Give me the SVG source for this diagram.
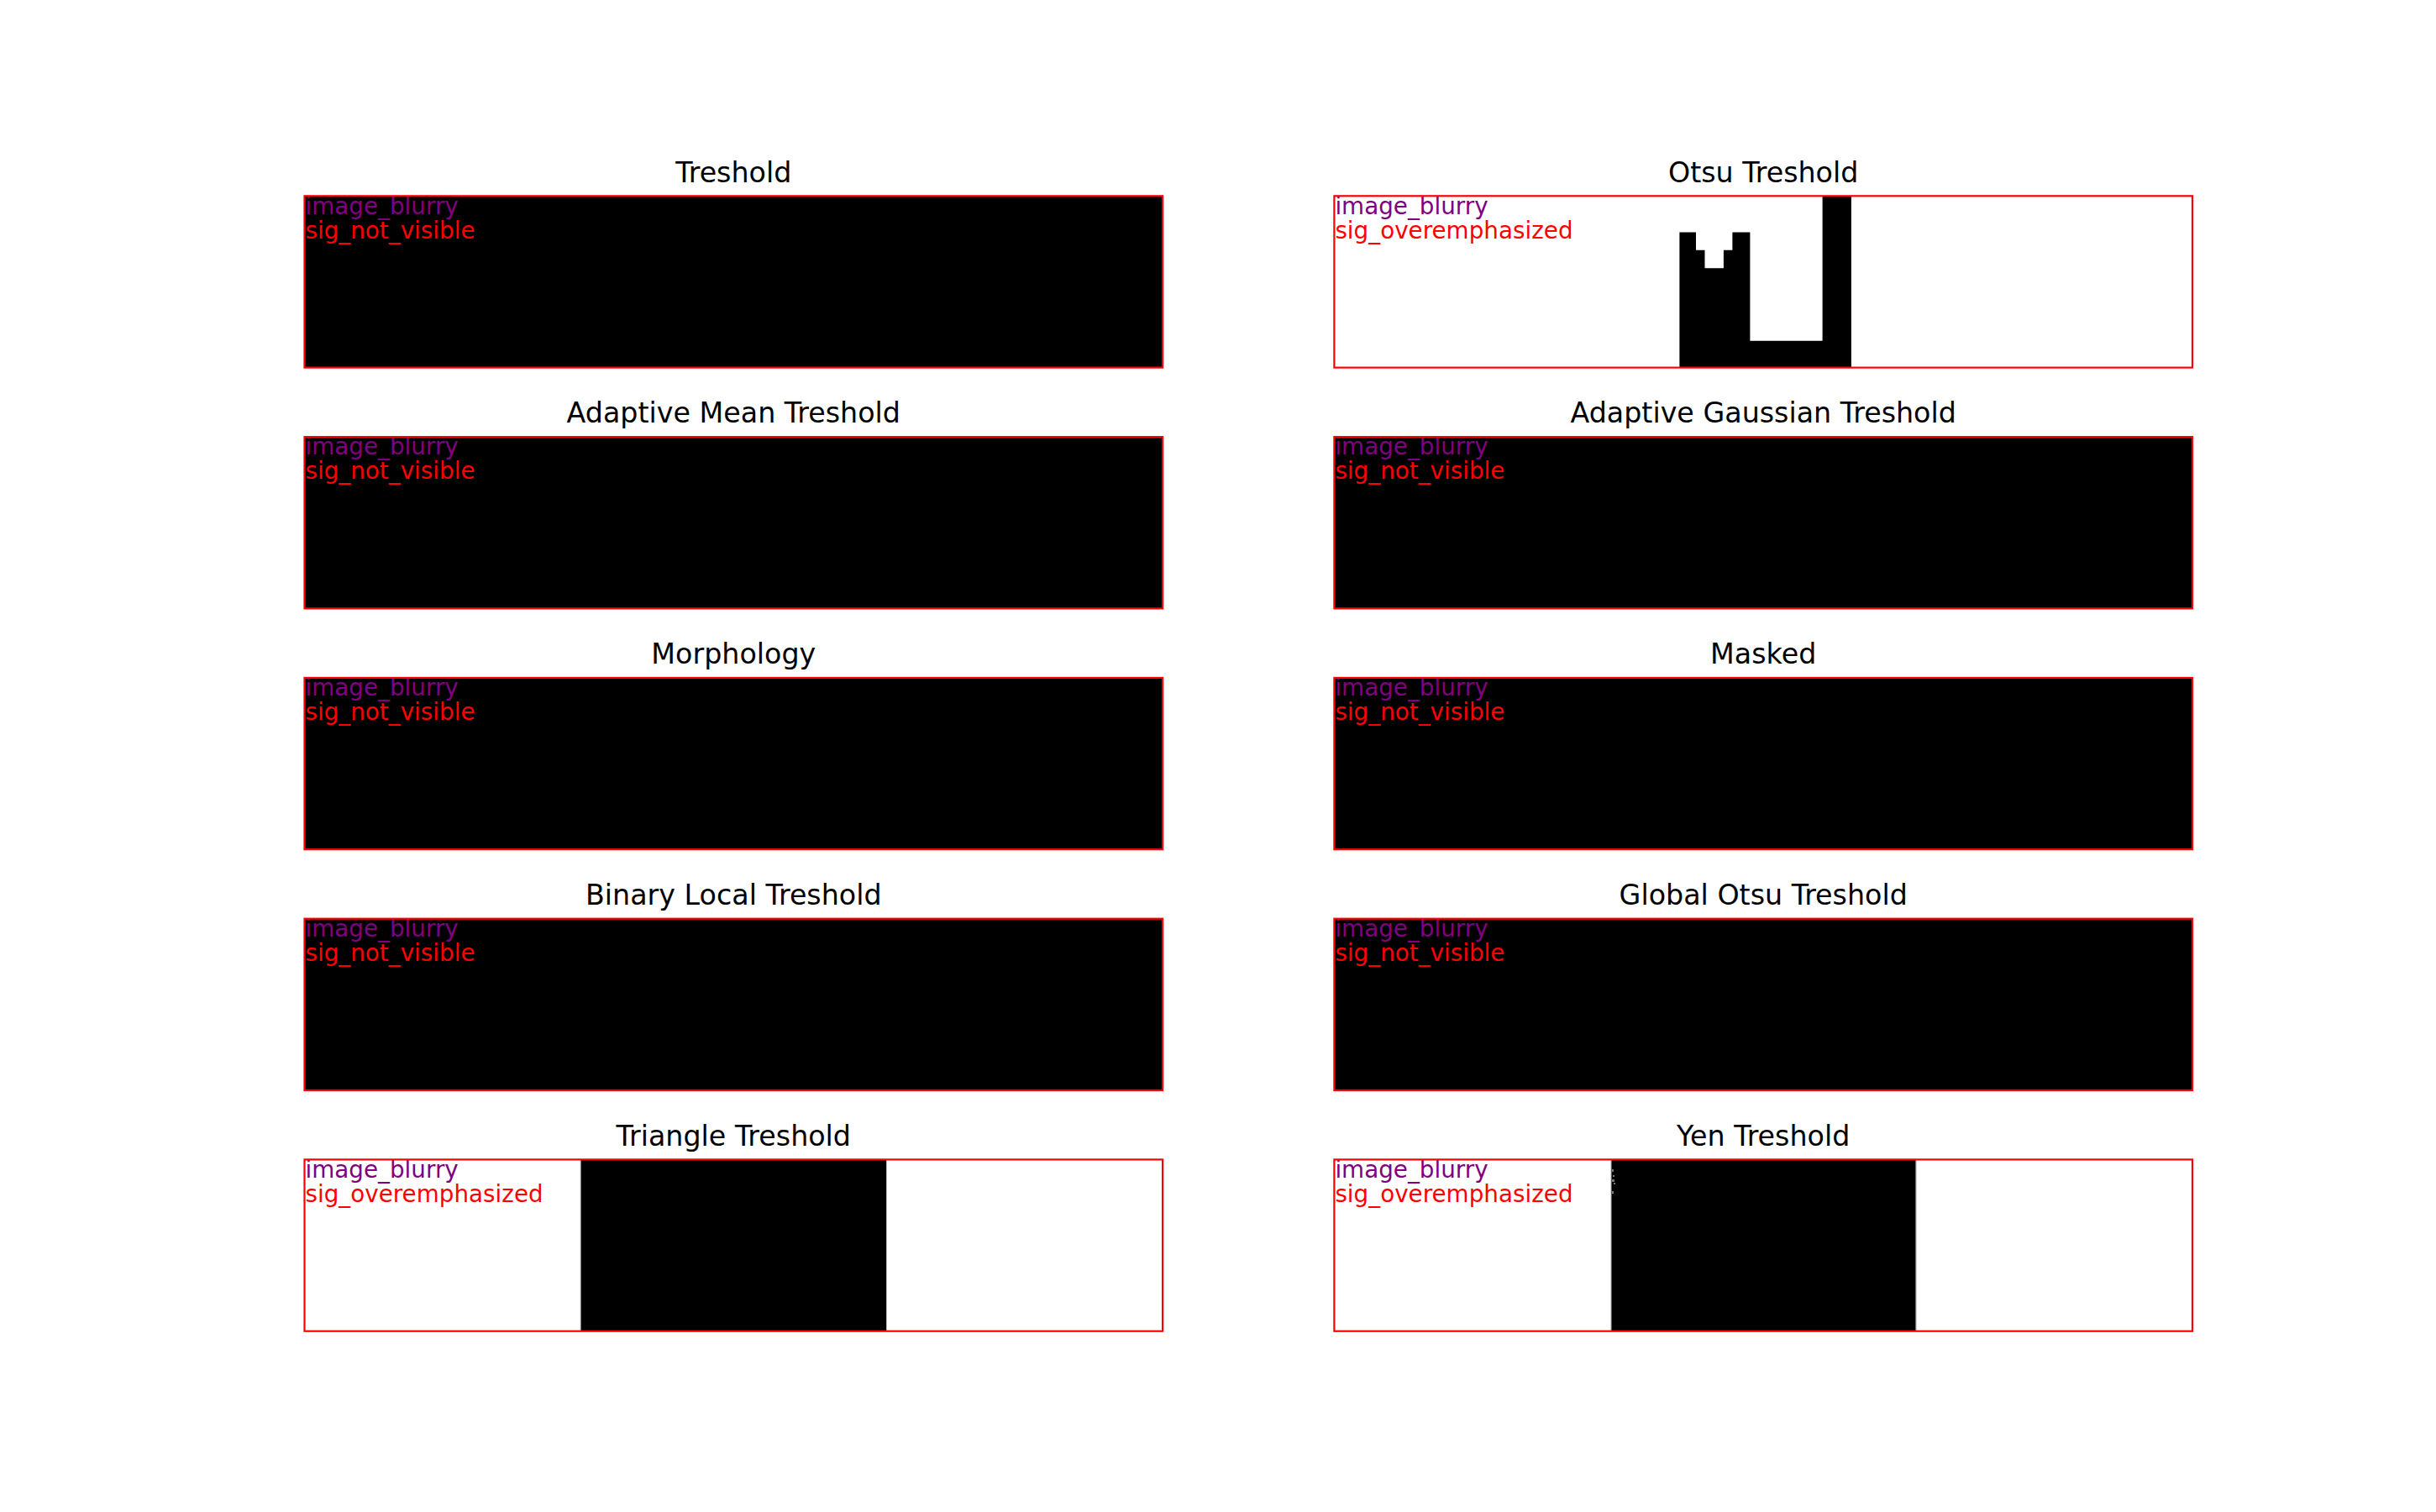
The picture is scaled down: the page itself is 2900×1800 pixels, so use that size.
<svg xmlns="http://www.w3.org/2000/svg" width="2900" height="1800" viewBox="0 0 2900 1800">
<style>
.title{font-family:"DejaVu Sans","Liberation Sans",sans-serif;font-size:33.3px;fill:#000;text-anchor:middle}
.ann{font-family:"DejaVu Sans","Liberation Sans",sans-serif;font-size:27.8px}
.blur{fill:#800080}
.sig{fill:#ff0000}
.frame{fill:none;stroke:#ff0000;stroke-width:2.2}
.img{fill:#000}
.bg{fill:#fff}
.edge{fill:#bdbdbd}
</style>
<rect x="0" y="0" width="2900" height="1800" fill="#fff"/>

<g id="treshold">
<text class="title" x="873.3" y="216.6">Treshold</text>
<rect class="img" x="362.5" y="233.3" width="1021.6" height="204.3"/>
<text class="ann blur" x="363.5" y="254.5">image_blurry</text>
<text class="ann sig" x="363.5" y="283.5">sig_not_visible</text>
<rect class="frame" x="362.5" y="233.3" width="1021.6" height="204.3"/>
</g>

<g id="otsu">
<text class="title" x="2099.2" y="216.6">Otsu Treshold</text>
<rect class="bg" x="1588.4" y="233.3" width="1021.6" height="204.3"/>
<path class="img" d="M1999.4 437.6 V276.5 H2019 V297.7 H2029.5 V319.3 H2051.9 V297.7 H2062.4 V276.5 H2083.4 V405.7 H2169.6 V233.3 H2203.9 V437.6 Z"/>
<text class="ann blur" x="1589.4" y="254.5">image_blurry</text>
<text class="ann sig" x="1589.4" y="283.5">sig_overemphasized</text>
<rect class="frame" x="1588.4" y="233.3" width="1021.6" height="204.3"/>
</g>

<g id="adaptive-mean">
<text class="title" x="873.3" y="503.4">Adaptive Mean Treshold</text>
<rect class="img" x="362.5" y="520.1" width="1021.6" height="204.3"/>
<text class="ann blur" x="363.5" y="541.3">image_blurry</text>
<text class="ann sig" x="363.5" y="570.3">sig_not_visible</text>
<rect class="frame" x="362.5" y="520.1" width="1021.6" height="204.3"/>
</g>

<g id="adaptive-gaussian">
<text class="title" x="2099.2" y="503.4">Adaptive Gaussian Treshold</text>
<rect class="img" x="1588.4" y="520.1" width="1021.6" height="204.3"/>
<text class="ann blur" x="1589.4" y="541.3">image_blurry</text>
<text class="ann sig" x="1589.4" y="570.3">sig_not_visible</text>
<rect class="frame" x="1588.4" y="520.1" width="1021.6" height="204.3"/>
</g>

<g id="morphology">
<text class="title" x="873.3" y="790.2">Morphology</text>
<rect class="img" x="362.5" y="806.9" width="1021.6" height="204.3"/>
<text class="ann blur" x="363.5" y="828.1">image_blurry</text>
<text class="ann sig" x="363.5" y="857.1">sig_not_visible</text>
<rect class="frame" x="362.5" y="806.9" width="1021.6" height="204.3"/>
</g>

<g id="masked">
<text class="title" x="2099.2" y="790.2">Masked</text>
<rect class="img" x="1588.4" y="806.9" width="1021.6" height="204.3"/>
<text class="ann blur" x="1589.4" y="828.1">image_blurry</text>
<text class="ann sig" x="1589.4" y="857.1">sig_not_visible</text>
<rect class="frame" x="1588.4" y="806.9" width="1021.6" height="204.3"/>
</g>

<g id="binary-local">
<text class="title" x="873.3" y="1077">Binary Local Treshold</text>
<rect class="img" x="362.5" y="1093.7" width="1021.6" height="204.3"/>
<text class="ann blur" x="363.5" y="1114.9">image_blurry</text>
<text class="ann sig" x="363.5" y="1143.9">sig_not_visible</text>
<rect class="frame" x="362.5" y="1093.7" width="1021.6" height="204.3"/>
</g>

<g id="global-otsu">
<text class="title" x="2099.2" y="1077">Global Otsu Treshold</text>
<rect class="img" x="1588.4" y="1093.7" width="1021.6" height="204.3"/>
<text class="ann blur" x="1589.4" y="1114.9">image_blurry</text>
<text class="ann sig" x="1589.4" y="1143.9">sig_not_visible</text>
<rect class="frame" x="1588.4" y="1093.7" width="1021.6" height="204.3"/>
</g>

<g id="triangle">
<text class="title" x="873.3" y="1363.7">Triangle Treshold</text>
<rect class="bg" x="362.5" y="1380.4" width="1021.6" height="204.3"/>
<rect class="edge" x="690.6" y="1380.4" width="1" height="204.3"/>
<rect class="img" x="691.6" y="1380.4" width="363.4" height="204.3"/>
<rect class="edge" x="1055" y="1380.4" width="1" height="204.3"/>
<text class="ann blur" x="363.5" y="1401.6">image_blurry</text>
<text class="ann sig" x="363.5" y="1430.6">sig_overemphasized</text>
<rect class="frame" x="362.5" y="1380.4" width="1021.6" height="204.3"/>
</g>

<g id="yen">
<text class="title" x="2099.2" y="1363.7">Yen Treshold</text>
<rect class="bg" x="1588.4" y="1380.4" width="1021.6" height="204.3"/>
<rect class="edge" x="1917.4" y="1380.4" width="1" height="204.3"/>
<rect class="img" x="1918.4" y="1380.4" width="362.3" height="204.3"/>
<rect class="edge" x="2280.7" y="1380.4" width="1" height="204.3"/>
<g fill="#777">
<rect x="1919" y="1392" width="2" height="3"/>
<rect x="1920" y="1399" width="2" height="2"/>
<rect x="1919" y="1404" width="3" height="3"/>
<rect x="1921" y="1408" width="2" height="2"/>
<rect x="1919" y="1418" width="2" height="3"/>
</g>
<text class="ann blur" x="1589.4" y="1401.6">image_blurry</text>
<text class="ann sig" x="1589.4" y="1430.6">sig_overemphasized</text>
<rect class="frame" x="1588.4" y="1380.4" width="1021.6" height="204.3"/>
</g>

<g id="connectors"></g>
</svg>
